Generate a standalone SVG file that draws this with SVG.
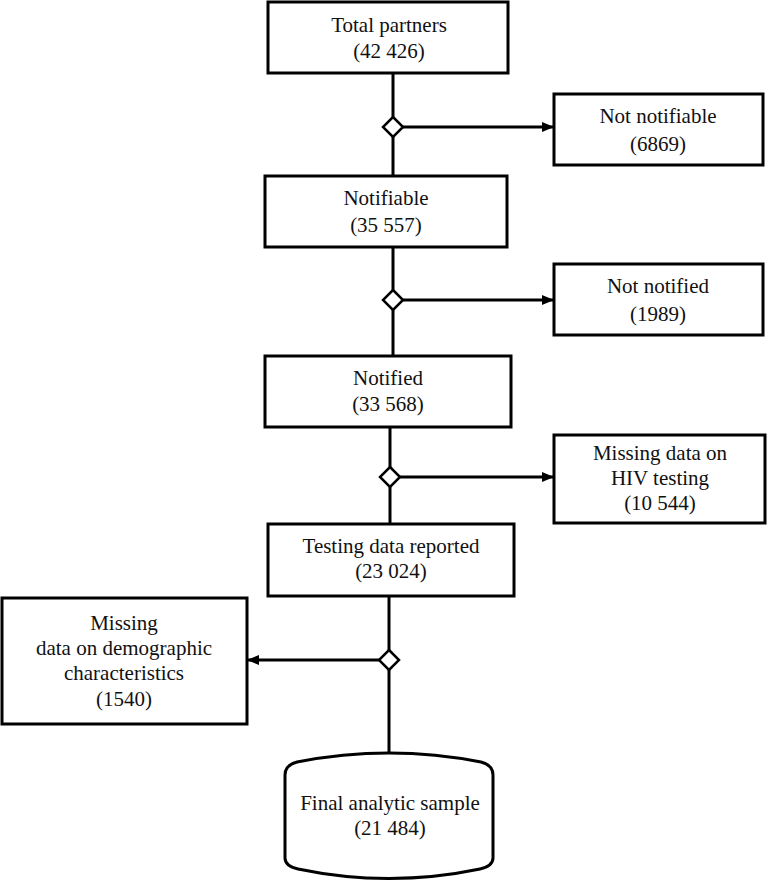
<svg xmlns="http://www.w3.org/2000/svg" width="768" height="880" viewBox="0 0 768 880">
<style>
.box{fill:#fff;stroke:#000;stroke-width:3}
.t{font-family:"Liberation Serif","Times New Roman",serif;font-size:21px;fill:#111;text-anchor:middle}
.ln{stroke:#000;stroke-width:3;fill:none}
.dm{fill:#fff;stroke:#000;stroke-width:2.5}
</style>
<defs>
<marker id="ah" markerWidth="12" markerHeight="10" refX="11" refY="5" orient="auto" markerUnits="userSpaceOnUse">
<path d="M0,0 L12,5 L0,10 Z" fill="#000"/>
</marker>
</defs>
<g id="connectors">
<line class="ln" x1="393" y1="73" x2="393" y2="176"/>
<line class="ln" x1="403" y1="127" x2="553" y2="127" marker-end="url(#ah)"/>
<path class="dm" d="M393,117 L403,127 L393,137 L383,127 Z"/>
<line class="ln" x1="393" y1="247" x2="393" y2="356"/>
<line class="ln" x1="403" y1="300" x2="553" y2="300" marker-end="url(#ah)"/>
<path class="dm" d="M393,290 L403,300 L393,310 L383,300 Z"/>
<line class="ln" x1="390" y1="427" x2="390" y2="524"/>
<line class="ln" x1="400" y1="477" x2="553" y2="477" marker-end="url(#ah)"/>
<path class="dm" d="M390,467 L400,477 L390,487 L380,477 Z"/>
<line class="ln" x1="389" y1="596" x2="389" y2="755"/>
<line class="ln" x1="379" y1="660" x2="248" y2="660" marker-end="url(#ah)"/>
<path class="dm" d="M389,650 L399,660 L389,670 L379,660 Z"/>
</g>
<g id="total">
<rect class="box" x="268" y="2" width="240" height="71"/>
<text class="t" x="389" y="32">Total partners</text>
<text class="t" x="389" y="58">(42 426)</text>
</g>
<g id="notnotifiable">
<rect class="box" x="554" y="94" width="209" height="71"/>
<text class="t" x="658" y="123">Not notifiable</text>
<text class="t" x="658" y="151">(6869)</text>
</g>
<g id="notifiable">
<rect class="box" x="265" y="176" width="242" height="71"/>
<text class="t" x="386" y="205">Notifiable</text>
<text class="t" x="386" y="232">(35 557)</text>
</g>
<g id="notnotified">
<rect class="box" x="554" y="264" width="209" height="71"/>
<text class="t" x="658" y="293">Not notified</text>
<text class="t" x="658" y="321">(1989)</text>
</g>
<g id="notified">
<rect class="box" x="265" y="356" width="246" height="71"/>
<text class="t" x="388" y="385">Notified</text>
<text class="t" x="388" y="411">(33 568)</text>
</g>
<g id="missinghiv">
<rect class="box" x="554" y="435" width="211" height="88"/>
<text class="t" x="660" y="460">Missing data on</text>
<text class="t" x="660" y="485">HIV testing</text>
<text class="t" x="660" y="510">(10 544)</text>
</g>
<g id="testing">
<rect class="box" x="268" y="524" width="246" height="72"/>
<text class="t" x="391" y="553">Testing data reported</text>
<text class="t" x="391" y="578">(23 024)</text>
</g>
<g id="missingdemo">
<rect class="box" x="2" y="598" width="245" height="126"/>
<text class="t" x="124" y="630">Missing</text>
<text class="t" x="124" y="655">data on demographic</text>
<text class="t" x="124" y="680">characteristics</text>
<text class="t" x="124" y="706">(1540)</text>
</g>
<g id="final">
<path class="box" d="M285,775 Q285,765 297,762 Q389,744 481,762 Q493,765 493,775 L493,858 Q493,866 480,869 Q389,888 298,869 Q285,866 285,858 Z"/>
<text class="t" x="390" y="810">Final analytic sample</text>
<text class="t" x="390" y="835">(21 484)</text>
</g>
</svg>
